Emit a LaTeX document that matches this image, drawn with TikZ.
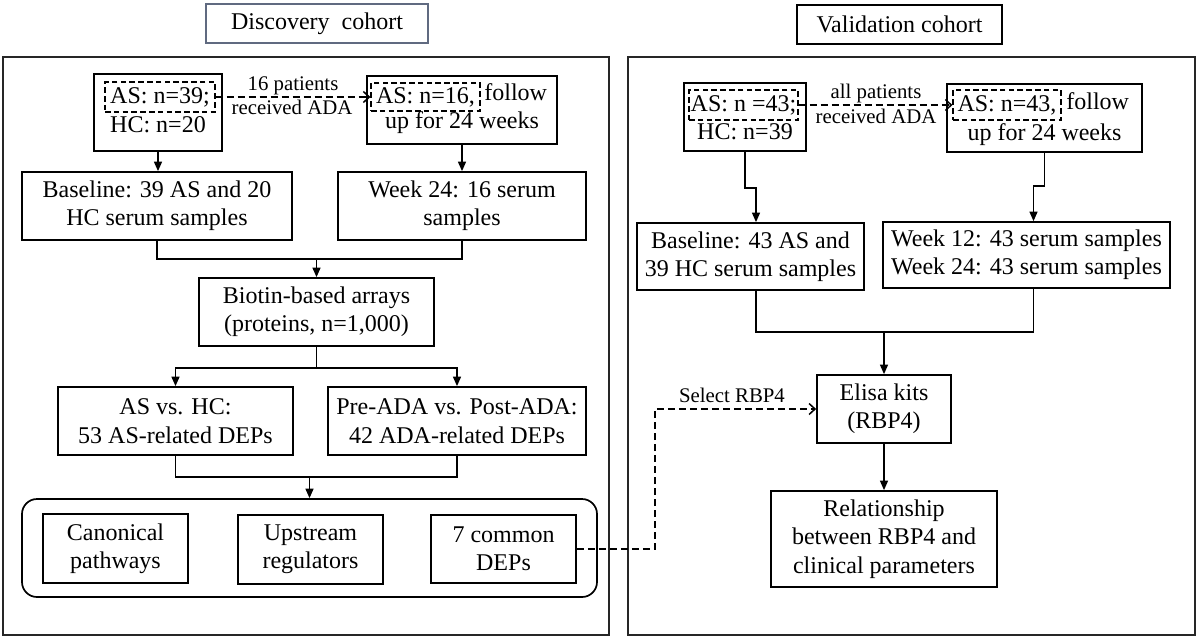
\documentclass[tikz,border=0pt]{standalone}
\usepackage{fontspec}
\setmainfont{Liberation Serif}
\usetikzlibrary{arrows.meta}
\usetikzlibrary{positioning}

\definecolor{titleedge}{RGB}{96,106,128}

\tikzstyle{box} = [rectangle, draw=black, line width=0.85pt, inner sep=0pt, align=center]
\tikzstyle{dashbox} = [rectangle, draw=black, line width=0.55pt, dash pattern=on 2.8pt off 1.6pt, inner sep=0pt]
\tikzstyle{txt} = [inner sep=0pt]
\tikzstyle{note} = [inner sep=0pt, font=\fontsize{10.4}{12}\selectfont]
\tikzstyle{cohortframe} = [draw=black!85, line width=1.2pt]
\tikzstyle{conn} = [line width=0.8pt]
\tikzstyle{arrow} = [line width=0.8pt, -{Triangle[length=4.8pt,width=4pt]}]
\tikzstyle{dasharrow} = [line width=0.75pt, dash pattern=on 3.5pt off 2pt, -{Straight Barb[length=3pt,width=5.5pt]}]

\begin{document}
\begin{tikzpicture}[x=0.5pt, y=-0.5pt, font=\fontsize{12}{14.2}\selectfont]

    \useasboundingbox (0,0) rectangle (1200,639);

    \node (disc) [box, draw=titleedge, minimum width=111pt, minimum height=19.5pt] at (317,23.5) {Discovery\ \ cohort};
    \node (valid) [box, minimum width=102.5pt, minimum height=19.5pt] at (899.5,24.5) {Validation cohort};

    \draw [cohortframe] (3,57) rectangle (609,635);
    \draw [cohortframe] (628,57) rectangle (1195,635);

    \node (as39) [box, minimum width=64pt, minimum height=38.5pt] at (158,112.5) {};
    \node (as39d) [dashbox, minimum width=55pt, minimum height=15pt] at (160,97) {AS: n=39;};
    \node (hc20) [txt, anchor=base] at (158,132) {HC: n=20};

    \node (as16) [box, minimum width=95pt, minimum height=34pt] at (462,110) {};
    \node (as16d) [dashbox, minimum width=54.5pt, minimum height=14pt] at (425.5,97) {AS: n=16,};
    \node (as16f) [txt, anchor=base west] at (484,100) {follow};
    \node (as16u) [txt, anchor=base] at (462,128) {up for 24 weeks};

    \draw [dasharrow] (as39d.east) -- (as16d.west);
    \node (recv1a) [note, anchor=base] at (293,90) {16 patients};
    \node (recv1b) [note, anchor=base] at (292,114) {received ADA};

    \node (base39) [box, minimum width=135pt, minimum height=34pt] at (157,206) {Baseline: 39 AS and 20\\HC serum samples};
    \node (week24) [box, minimum width=124pt, minimum height=34pt] at (462,206) {Week 24: 16 serum\\samples};

    \draw [arrow] (as39.south) -- (as39.south |- base39.north);
    \draw [arrow] (as16.south) -- (as16.south |- week24.north);

    \node (biotin) [box, minimum width=117.5pt, minimum height=34pt] at (316.5,312) {Biotin-based arrays\\(proteins, n=1,000)};
    \coordinate (join1) at (316.5,259);
    \draw [conn] (base39.south) |- (join1) -| (week24.south);
    \draw [arrow] (join1) -- (biotin.north);

    \node (asvshc) [box, minimum width=117.5pt, minimum height=34pt] at (175.5,421) {AS vs. HC:\\53 AS-related DEPs};
    \node (preada) [box, minimum width=129pt, minimum height=34pt] at (457,421) {Pre-ADA vs. Post-ADA:\\42 ADA-related DEPs};
    \coordinate (split1) at (316.5,368);
    \draw [conn] (biotin.south) -- (split1);
    \draw [arrow] (split1) -| (asvshc.north);
    \draw [arrow] (split1) -| (preada.north);

    \node (results) [box, rounded corners=7.5pt, minimum width=287.5pt, minimum height=49pt] at (309.5,548) {};
    \coordinate (join2) at (309.5,477);
    \draw [conn] (asvshc.south) |- (join2) -| (preada.south);
    \draw [arrow] (join2) -- (results.north);

    \node (canon) [box, minimum width=72.5pt, minimum height=34.5pt] at (115.5,548.5) {Canonical\\pathways};
    \node (upstream) [box, minimum width=72.5pt, minimum height=34.5pt] at (310.5,549.5) {Upstream\\regulators};
    \node (common7) [box, minimum width=72.5pt, minimum height=34pt] at (503.5,549) {7 common\\DEPs};

    \node (as43) [box, minimum width=61pt, minimum height=34pt] at (745,117) {};
    \node (as43d) [dashbox, minimum width=54.5pt, minimum height=15pt] at (743.5,105) {AS: n =43;};
    \node (hc39) [txt, anchor=base] at (745,139) {HC: n=39};

    \node (as43r) [box, minimum width=97.5pt, minimum height=34pt] at (1044.5,118) {};
    \node (as43rd) [dashbox, minimum width=54pt, minimum height=15pt] at (1007,105) {AS: n=43,};
    \node (as43rf) [txt, anchor=base west] at (1066,109) {follow};
    \node (as43ru) [txt, anchor=base] at (1044.5,140) {up for 24 weeks};

    \draw [dasharrow] (as43d.east) -- (as43rd.west);
    \node (recv2a) [note, anchor=base] at (876,98) {all patients};
    \node (recv2b) [note, anchor=base] at (876,123) {received ADA};

    \node (base43) [box, minimum width=113.5pt, minimum height=33.5pt] at (750.5,256.5) {Baseline: 43 AS and\\39 HC serum samples};
    \node (week12) [box, minimum width=143.5pt, minimum height=33pt] at (1026.5,255) {Week 12: 43 serum samples\\Week 24: 43 serum samples};

    \draw [arrow] (as43.south) -- ++(0,36) -| ([xshift=2.75pt]base43.north);
    \draw [arrow] (as43r.south) -- ++(0,33) -| ([xshift=3.5pt]week12.north);

    \node (elisa) [box, minimum width=67pt, minimum height=34pt] at (884,409) {Elisa kits\\(RBP4)};
    \coordinate (join3) at (884,332);
    \draw [conn] ([xshift=2.75pt]base43.south) |- (join3) -| ([xshift=3.5pt]week12.south);
    \draw [arrow] (join3) -- (elisa.north);

    \node (relation) [box, minimum width=113pt, minimum height=48pt] at (884,539) {Relationship\\between RBP4 and\\clinical parameters};
    \draw [arrow] (elisa) -- (relation);

    \draw [dasharrow] (common7.east) -- ++(78,0) |- (elisa.west);
    \node (select) [note, anchor=base] at (732,402) {Select RBP4};

\end{tikzpicture}
\end{document}
